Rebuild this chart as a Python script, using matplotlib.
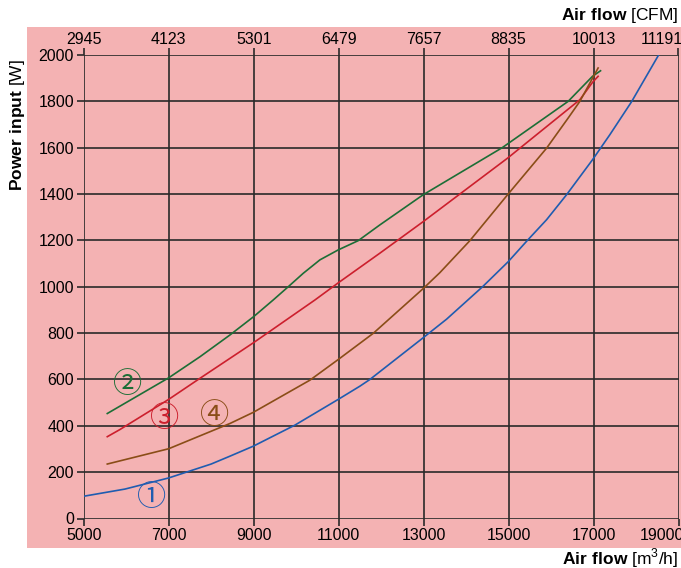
import matplotlib.pyplot as plt
from matplotlib.patches import Rectangle
from matplotlib.transforms import ScaledTranslation

plt.rcParams['font.family'] = ['Liberation Sans', 'DejaVu Sans']
plt.rcParams['mathtext.fontset'] = 'custom'
plt.rcParams['mathtext.rm'] = 'Liberation Sans'
plt.rcParams['mathtext.bf'] = 'Liberation Sans:bold'

# air flow ticks (m3/h) and the matching CFM labels on top
flow_ticks = [5000, 7000, 9000, 11000, 13000, 15000, 17000, 19000]
cfm_labels = ['2945', '4123', '5301', '6479', '7657', '8835', '10013', '11191']
power_ticks = list(range(0, 2001, 200))

# curve 1 (blue)
x1 = [5000, 5972, 7000, 8000, 8443, 8991, 9972, 10991, 11501, 11737, 12977, 13541, 14388,
      14991, 15438, 15894, 16365, 16976, 17384, 17894, 18532]
y1 = [96, 127, 175, 235, 269, 312, 403, 514, 571, 600, 778, 860, 1000,
      1108, 1199, 1289, 1397, 1548, 1656, 1798, 2000]
# curve 2 (green)
x2 = [5555, 7000, 7737, 8443, 9000, 9461, 9814, 10167, 10560, 10991, 11462, 11972, 12991,
      14850, 16403, 16976, 17165]
y2 = [453, 607, 698, 792, 871, 943, 1000, 1058, 1116, 1159, 1199, 1267, 1397,
      1600, 1800, 1908, 1932]
# curve 3 (red)
x3 = [5555, 5854, 7000, 7737, 9000, 10443, 11000, 11972, 12991, 14977, 16678, 16976, 17108]
y3 = [353, 384, 514, 605, 759, 943, 1018, 1145, 1281, 1555, 1807, 1882, 1908]
# curve 4 (brown)
x4 = [5555, 7000, 8443, 8991, 10325, 10991, 11815, 12984, 13384, 14090, 14977, 15895,
      16403, 16678, 17108]
y4 = [235, 301, 410, 458, 597, 686, 799, 991, 1061, 1199, 1397, 1598,
      1728, 1800, 1944]

curves = [(x1, y1, '#1f5cb0', '①', 6600, 88),
          (x2, y2, '#1c6e36', '②', 6026, 578),
          (x3, y3, '#cc1f2d', '③', 6897, 428),
          (x4, y4, '#8a4d17', '④', 8090, 441)]

pink = '#f4b2b3'
gridc = '#2a2a2a'

fig = plt.figure(figsize=(6.81, 5.68), dpi=100)
fig.patches.append(Rectangle((27 / 681, 20 / 568), 1 - 27 / 681, (548 - 27) / 568,
                             transform=fig.transFigure, facecolor=pink, edgecolor='none', zorder=-5))
ax = fig.add_axes([83.7 / 681, 1 - 518.5 / 568, (678.5 - 83.7) / 681, (518.5 - 55) / 568])
ax.set_facecolor('none')

for xs, ys, c, lab, lx, ly in curves:
    ax.plot(xs, ys, color=c, lw=1.2, zorder=3)
    ax.text(lx, ly, lab, color=c, fontsize=21, ha='center', va='center',
            family=['Noto Sans CJK JP', 'DejaVu Sans'], zorder=4)

ax.set_xlim(5000, 19000)
ax.set_ylim(0, 2000)
ax.set_xticks(flow_ticks)
ax.set_yticks(power_ticks)
ax.grid(True, color=gridc, lw=1.2, zorder=1)
ax.set_axisbelow(True)
for s in ax.spines.values():
    s.set_visible(False)
ax.tick_params(axis='both', length=5, width=1.2, color=gridc, labelsize=11.5, pad=2)

top = ax.secondary_xaxis('top')
top.set_xticks(flow_ticks)
top.set_xticklabels(cfm_labels)
top.tick_params(length=5, width=1.2, color=gridc, labelsize=11.5, pad=1)
top.spines['top'].set_visible(False)

# last labels sit pulled in from the right edge
shift = ScaledTranslation(-17 / 100, 0, fig.dpi_scale_trans)
for lab in (ax.get_xticklabels()[-1], top.get_xticklabels()[-1]):
    lab.set_transform(lab.get_transform() + shift)

fig.text(0.996, 0.972, r'$\mathbf{Air\ flow}$ [CFM]', ha='right', va='center', fontsize=12.5)
fig.text(0.996, 0.017, r'$\mathbf{Air\ flow}$ [m$^3$/h]', ha='right', va='center', fontsize=12.5)
fig.text(0.026, 1 - 125 / 568, r'$\mathbf{Power\ input}$ [W]', ha='center', va='center',
         rotation=90, fontsize=12.5)

fig.savefig('out.png', dpi=100)
